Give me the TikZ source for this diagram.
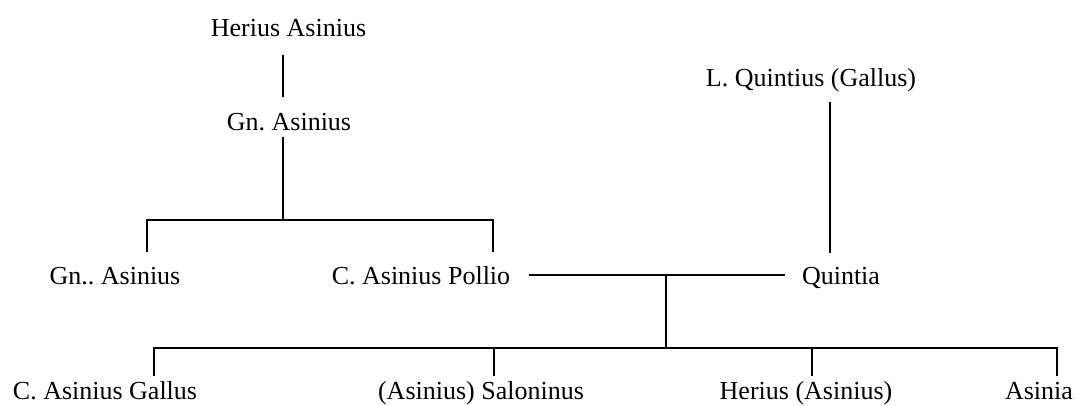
\documentclass[tikz,border=0pt]{standalone}
\usepackage{fontspec}
\setmainfont{Liberation Serif}
\frenchspacing
\begin{document}
\begin{tikzpicture}[x=1pt,y=-1pt,
  person/.style={font=\fontsize{26}{30}\selectfont, inner sep=0pt, anchor=base},
  child/.style={font=\fontsize{26}{30}\selectfont, inner sep=0pt, anchor=base},
  link/.style={line width=1.2pt}]
\useasboundingbox (0,0) rectangle (1085,406);
% people
\node[person] (herius) at (288.5,37) {Herius Asinius};
\node[person] (gn) at (289,131) {Gn. Asinius};
\node[person] (gn2) at (115,285) {Gn.. Asinius};
\node[person] (pollio) at (421,285) {C. Asinius Pollio};
\node[person] (lq) at (811,87) {L. Quintius (Gallus)};
\node[person] (quintia) at (841,284) {Quintia};
\node[child] (gallus) at (105,399) {C. Asinius Gallus};
\node[child] (salon) at (481,399) {(Asinius) Saloninus};
\node[child] (herius2) at (806,399) {Herius (Asinius)};
\node[child] (asinia) at (1039,399) {Asinia};
% junction points
\coordinate (h0) at (283,55);
\coordinate (g0) at (283,97);
\coordinate (g1) at (283,137);
\coordinate (gbar) at (283,220);
\coordinate (gl) at (147,220);
\coordinate (gr) at (493,220);
\coordinate (gl1) at (147,252);
\coordinate (gr1) at (493,252);
\coordinate (pq0) at (529,275);
\coordinate (pq1) at (785,275);
\coordinate (lq0) at (830,102);
\coordinate (lq1) at (830,253);
\coordinate (m0) at (666,275);
\coordinate (m1) at (666,348);
\coordinate (b1) at (154,348);
\coordinate (b2) at (494,348);
\coordinate (b3) at (812,348);
\coordinate (b4) at (1057,348);
\coordinate (d1) at (154,376);
\coordinate (d2) at (494,376);
\coordinate (d3) at (812,376);
\coordinate (d4) at (1057,376);
% connectors
\draw[link] (h0) -- (g0);
\draw[link] (g1) -- (gbar);
\draw[link] (gl1) -- (gl) -- (gr) -- (gr1);
\draw[link] (pq0) -- (pq1);
\draw[link] (lq0) -- (lq1);
\draw[link] (m0) -- (m1);
\draw[link] (d1) -- (b1) -- (b4) -- (d4);
\draw[link] (b2) -- (d2);
\draw[link] (b3) -- (d3);
\end{tikzpicture}
\end{document}
